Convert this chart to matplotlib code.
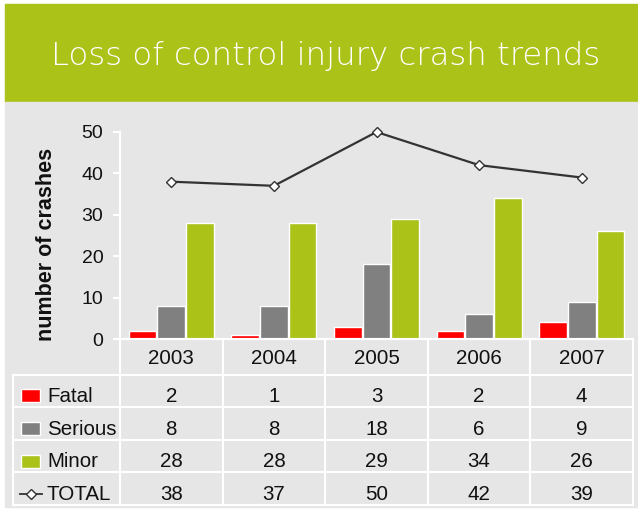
import numpy as np
import matplotlib
matplotlib.use("Agg")
import matplotlib.pyplot as plt
from matplotlib.patches import Rectangle

# data
years = ["2003", "2004", "2005", "2006", "2007"]
fatal = [2, 1, 3, 2, 4]
serious = [8, 8, 18, 6, 9]
minor = [28, 28, 29, 34, 26]
total = [38, 37, 50, 42, 39]
row_names = ["Fatal", "Serious", "Minor", "TOTAL"]

green = "#abc219"
red = "#ff0000"
grey = "#808080"
panel = "#e6e6e6"
line_col = "#333333"

plt.rcParams["font.family"] = ["Liberation Sans", "DejaVu Sans"]

W, H = 638, 509
fig = plt.figure(figsize=(W / 100, H / 100), dpi=100)


def box(x0, y0, x1, y1):
    # pixel box (top-left origin) -> figure fraction rect
    return [x0 / W, 1 - y1 / H, (x1 - x0) / W, (y1 - y0) / H]


# header band and grey panel (behind the axes)
fig.add_artist(Rectangle((5 / W, 1 - 102 / H), 632 / W, 98 / H,
                         transform=fig.transFigure, color=green, zorder=-5))
fig.add_artist(Rectangle((5 / W, 1 - 507 / H), 632 / W, 405 / H,
                         transform=fig.transFigure, color=panel, zorder=-5))
fig.text(326 / W, 1 - 56 / H, "Loss of control injury crash trends",
         color="white", fontsize=23.3, family="DejaVu Sans", weight="light",
         ha="center", va="center")

# bar chart
ax = fig.add_axes(box(120, 132, 633, 339))
ax.patch.set_alpha(0)
x = np.arange(len(years))
bw = 0.27
ax.bar(x - 0.28, fatal, bw, color=red, edgecolor="white", linewidth=1)
ax.bar(x, serious, bw, color=grey, edgecolor="white", linewidth=1)
ax.bar(x + 0.28, minor, bw, color=green, edgecolor="white", linewidth=1)
ax.plot(x, total, color=line_col, lw=1.6, marker="D", ms=5.5,
        mfc="white", mec=line_col, mew=1, clip_on=False, zorder=5)
ax.set_xlim(-0.5, 4.5)
ax.set_ylim(0, 50)
ax.set_yticks([0, 10, 20, 30, 40, 50])
ax.set_xticks([])
for s in ["top", "right"]:
    ax.spines[s].set_visible(False)
for s in ["left", "bottom"]:
    ax.spines[s].set_color("white")
    ax.spines[s].set_linewidth(1.5)
ax.tick_params(axis="y", colors="white", length=5, width=1.5, pad=7,
               labelcolor="#111111", labelsize=14)
ax.set_ylabel("number of crashes", fontsize=15.5, fontweight="bold",
              color="#111111")
ax.yaxis.set_label_coords(-0.123, 0.457)

# data table underneath
tab = fig.add_axes(box(13, 339, 633, 505))
tab.patch.set_alpha(0)
tab.axis("off")
left = -0.5 - 107 / 102.6
tab.set_xlim(left, 4.5)
tab.set_ylim(4, -1.1)
lw = 1.5
for r in range(5):
    tab.plot([left, 4.5], [r, r], color="white", lw=lw, clip_on=False)
tab.plot([-0.5, 4.5], [-1.1, -1.1], color="white", lw=lw, clip_on=False)
tab.plot([left, left], [0, 4], color="white", lw=lw, clip_on=False)
for c in np.arange(-0.5, 5, 1):
    tab.plot([c, c], [-1.1, 4], color="white", lw=lw, clip_on=False)

fs = 14.8
for i, yr in enumerate(years):
    tab.text(i, -0.5, yr, ha="center", va="center", fontsize=fs, color="#111111")
for r, vals in enumerate([fatal, serious, minor, total]):
    for i, v in enumerate(vals):
        tab.text(i, r + 0.67, str(v), ha="center", va="center",
                 fontsize=fs, color="#111111")
    tab.text(left + 34 / 102.6, r + 0.67, row_names[r], ha="left",
             va="center", fontsize=fs, color="#111111")

# legend keys in the first column
sw_x = left + 8 / 102.6
sw_w = 19 / 102.6
for r, col in enumerate([red, grey, green]):
    tab.add_patch(Rectangle((sw_x, r + 0.45), sw_w, 0.4, facecolor=col,
                            edgecolor="white", lw=1))
tab.plot([left + 7 / 102.6, left + 29 / 102.6], [3.65, 3.65], color=line_col, lw=1.3)
tab.plot([left + 18 / 102.6], [3.65], marker="D", ms=5.5, mfc="white",
         mec=line_col, mew=1, color=line_col)

fig.savefig("out.png", dpi=100)
